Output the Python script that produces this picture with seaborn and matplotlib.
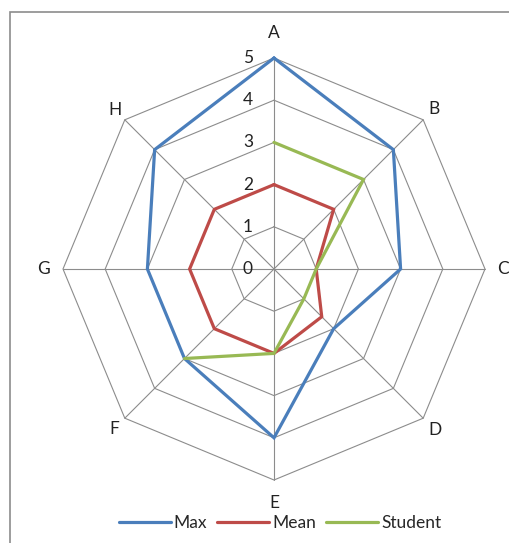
import numpy as np
import pandas as pd
import matplotlib
matplotlib.use("Agg")
import matplotlib.pyplot as plt
from matplotlib.lines import Line2D
from matplotlib.patches import Rectangle
import seaborn as sns

categories = ["A", "B", "C", "D", "E", "F", "G", "H"]
max_vals = [5, 4, 3, 2, 4, 3, 3, 4]
mean_vals = [2, 2, 1, 1.6, 2, 2, 2, 2]
student_vals = [3, 3, 1, 1, 2, 3, None, None]
series_names = ["Max", "Mean", "Student"]
tick_values = [0, 1, 2, 3, 4, 5]

colors = {"Max": "#4A7EBB", "Mean": "#BE4B48", "Student": "#98B954"}
grid_color = "#8C8C8C"
FONT = "Lato"
FS = 12.5

sns.set_style("white")
plt.rcParams["font.family"] = [FONT, "DejaVu Sans"]

n = len(categories)
angles = [2 * np.pi * i / n for i in range(n)]

rows = []
for name, vals in zip(series_names, [max_vals, mean_vals, student_vals]):
    complete = all(v is not None for v in vals)
    for i, v in enumerate(vals):
        if v is not None:
            rows.append({"series": name, "theta": angles[i], "r": v, "order": i})
    if complete:
        rows.append({"series": name, "theta": 2 * np.pi, "r": vals[0], "order": n})
df = pd.DataFrame(rows)

fig = plt.figure(figsize=(5.10, 5.43), dpi=100)
cx, cy, R = 274, 269, 211
W, H = 510, 543
ax = fig.add_axes([(cx - R) / W, (H - cy - R) / H, 2 * R / W, 2 * R / H], projection="polar")
ax.set_theta_zero_location("N")
ax.set_theta_direction(-1)
ax.grid(False)
ax.spines["polar"].set_visible(False)
ax.set_facecolor("none")

# octagonal grid
closed = angles + [2 * np.pi]
for t in tick_values[1:]:
    ax.plot(closed, [t] * (n + 1), color=grid_color, lw=0.8, zorder=1, clip_on=False)
for a in angles:
    ax.plot([a, a], [0, tick_values[-1]], color=grid_color, lw=0.8, zorder=1, clip_on=False)

sns.lineplot(data=df, x="theta", y="r", hue="series", units="series", estimator=None,
             sort=False, palette=colors, hue_order=series_names, linewidth=2.3,
             legend=False, ax=ax, zorder=3)
for ln in ax.get_lines():
    ln.set_clip_on(False)
    ln.set_solid_joinstyle("miter")

ax.set_ylim(0, 5)
ax.set_xticks([])
ax.set_yticks([])
ax.set_xlabel("")
ax.set_ylabel("")

# category labels
label_r = [5.6, 5.37, 5.42, 5.4, 5.55, 5.37, 5.47, 5.33]
for a, lab, lr in zip(angles, categories, label_r):
    ax.text(a, lr, lab, ha="center", va="center", fontsize=FS, color="#222222", clip_on=False)

# value tick labels
for t in tick_values:
    x_disp, y_disp = ax.transData.transform((0, t))
    fig.text((x_disp - 21) / W, y_disp / H, str(t), ha="right", va="center",
             fontsize=FS, color="#222222")

# chart frame
fig.patches.append(Rectangle((10 / W, -0.1), 2, 1 - 12.5 / H + 0.1, transform=fig.transFigure,
                             fill=False, edgecolor="#8C8C8C", lw=1.2))

handles = [Line2D([0], [0], color=colors[s], lw=2.3) for s in series_names]
fig.legend(handles, series_names, loc="center", bbox_to_anchor=(280 / W, 1 - 523 / H),
           ncol=3, frameon=False, fontsize=FS, handlelength=3.0, handletextpad=0.15,
           columnspacing=0.6, borderaxespad=0, borderpad=0)

fig.savefig("out.png", dpi=100)
